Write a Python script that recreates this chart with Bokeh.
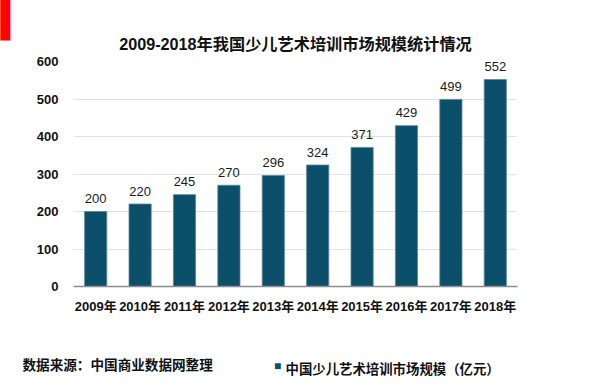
from bokeh.plotting import figure
from bokeh.models import FactorRange, Range1d, Label, ColumnDataSource, LabelSet, FixedTicker, Title
from bokeh.core.properties import value
from bokeh.embed import file_html
from bokeh.resources import INLINE

years = ["2009年", "2010年", "2011年", "2012年", "2013年", "2014年", "2015年", "2016年", "2017年", "2018年"]
values = [200, 220, 245, 270, 296, 324, 371, 429, 499, 552]
y_ticks = [0, 100, 200, 300, 400, 500, 600]
title_text = "2009-2018年我国少儿艺术培训市场规模统计情况"
source_text = "数据来源：中国商业数据网整理"
legend_text = "中国少儿艺术培训市场规模（亿元）"

FONT = "Liberation Sans, Noto Sans CJK SC"
BAR = "#0b4f6a"

p = figure(width=600, height=385, x_range=FactorRange(factors=years), y_range=Range1d(0, 600),
           output_backend="svg", toolbar_location=None, title=None,
           min_border_left=73, min_border_right=83, min_border_top=61, min_border_bottom=99)
p.outline_line_color = None
p.background_fill_color = "white"
p.border_fill_color = "white"

src = ColumnDataSource(dict(x=years, top=values, lbl=[str(v) for v in values]))
p.vbar(x="x", top="top", width=0.5, source=src, fill_color=BAR, line_color="#5f8798", line_width=0.8)

labels = LabelSet(x="x", y="top", text="lbl", source=src, text_align="center", text_baseline="middle",
                  y_offset=13, text_font=value(FONT), text_font_size=value("13px"), text_color="#1a1a1a")
p.add_layout(labels)

p.yaxis.ticker = FixedTicker(ticks=y_ticks)
p.yaxis.axis_line_color = None
p.yaxis.major_tick_line_color = None
p.yaxis.minor_tick_line_color = None
p.yaxis.major_tick_out = 0
p.yaxis.major_label_standoff = 15
p.yaxis.major_label_text_font = FONT
p.yaxis.major_label_text_font_size = "13px"
p.yaxis.major_label_text_font_style = "bold"
p.yaxis.major_label_text_color = "#111111"

p.xaxis.axis_line_color = "#8c8c8c"
p.xaxis.axis_line_width = 1.5
p.xaxis.major_tick_line_color = None
p.xaxis.major_tick_out = 0
p.xaxis.major_label_standoff = 12
p.xaxis.major_label_text_font = FONT
p.xaxis.major_label_text_font_size = "13px"
p.xaxis.major_label_text_font_style = "bold"
p.xaxis.major_label_text_color = "#111111"

p.xgrid.grid_line_color = None
p.ygrid.grid_line_color = "#e2e2e2"
p.ygrid.grid_line_width = 1

p.add_layout(Title(text=title_text, align="center", text_font=FONT, text_font_size="16.2px",
                   text_font_style="bold", text_color="#111111", standoff=18), "above")

# bottom line: labels placed in the bottom panel
p.add_layout(Label(x=22 - 73, y=-34, x_units="screen", y_units="screen", text=source_text,
                   text_align="left", text_baseline="middle",
                   text_font=FONT, text_font_size="13.6px", text_font_style="bold", text_color="#111111"), "below")
p.add_layout(Label(x=277 - 73, y=-20, x_units="screen", y_units="screen", text="■",
                   text_align="center", text_baseline="middle",
                   text_font=FONT, text_font_size="12px", text_color=BAR), "below")
p.add_layout(Label(x=285 - 73, y=-9, x_units="screen", y_units="screen", text=legend_text,
                   text_align="left", text_baseline="middle",
                   text_font=FONT, text_font_size="13.4px", text_font_style="bold", text_color="#111111"), "below")

# red corner mark: placed in the (empty) right panel, positioned in data units of the plot
px_x = 44.4
px_y = 224 / 600
p.add_layout(Label(x=-73 / px_x, y=600 + (61 - 20) / px_y, text="▍",
                   text_align="left", text_baseline="middle",
                   text_font="DejaVu Sans", text_font_size="34px", text_color="#ff0000"), "right")

open("out.html", "w").write(file_html(p, INLINE))
